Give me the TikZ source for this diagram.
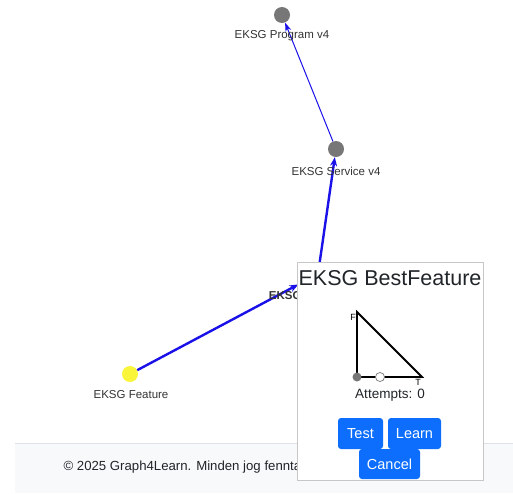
\documentclass[tikz,border=0pt]{standalone}
\usepackage{fontspec}
\setmainfont{Liberation Sans}
\usetikzlibrary{arrows.meta}
\definecolor{edgeblue}{HTML}{1A10E8}
\definecolor{nodegray}{HTML}{777777}
\definecolor{nodeyellow}{HTML}{F8F53A}
\definecolor{btnblue}{HTML}{0D6EFD}
\definecolor{footbg}{HTML}{F8F9FA}
\definecolor{footline}{HTML}{DEE2E6}
\definecolor{textdark}{HTML}{212529}
\tikzset{
  vertex/.style={circle, inner sep=0pt, minimum size=16pt, fill=nodegray},
  vlabel/.style={font=\fontsize{11.5}{13}\selectfont, text=black!80},
  thinedge/.style={draw=edgeblue, line width=1pt, -{Stealth[length=9pt,width=6pt]}},
  thickedge/.style={draw=edgeblue, line width=2.4pt, -{Stealth[length=9pt,width=7pt]}},
  btn/.style={fill=btnblue, rounded corners=3pt},
  btntext/.style={text=white, font=\fontsize{14.5}{16}\selectfont}
}
\begin{document}
\begin{tikzpicture}[x=1pt, y=-1pt]
\useasboundingbox (0,0) rectangle (513,493);

% footer bar
\fill[footbg] (15,443) rectangle (513,493);
\draw[footline, line width=1pt] (15,443) -- (513,443);
\node[anchor=west, font=\fontsize{13.2}{15}\selectfont, text=textdark] (foot) at (60,467)
  {© 2025 Graph4Learn. Minden jog fenntartva.};

% graph nodes
\node[vertex] (prog) at (282,15) {};
\node[vertex] (serv) at (336,149) {};
\node[vertex, fill=nodeyellow] (feat) at (130,374) {};
\node[vertex] (best) at (318,274) {};

% edges
\draw[thinedge] (serv) -- (prog);
\draw[thickedge] (best) -- (serv);
\draw[thickedge, shorten >=14pt] (feat) -- (best);

% labels
\node[vlabel] (progl) at (282,36) {EKSG Program v4};
\node[vlabel] (servl) at (336,171) {EKSG Service v4};
\node[vlabel] (featl) at (131,395) {EKSG Feature};
\node[vlabel, font=\bfseries\fontsize{11.5}{13}\selectfont] (bestl) at (320,296) {EKSG BestFeature};

% popup panel
\draw[fill=white, draw=black!22, line width=0.8pt] (297,262) rectangle (483,480);
\node[font=\fontsize{21.5}{24}\selectfont, text=textdark] (title) at (390,278) {EKSG BestFeature};

% triangle chart
\coordinate (tf) at (357,312);
\coordinate (to) at (357,377);
\coordinate (tt) at (422,377);
\draw[line width=1.8pt, line join=miter] (tf) -- (to) -- (tt) -- cycle;
\fill[nodegray] (to) circle (4.5);
\draw[nodegray, fill=white, line width=0.7pt] (380,377) circle (4.5);
\node[font=\fontsize{9}{10}\selectfont] (lf) at (353,317) {F};
\node[font=\fontsize{9}{10}\selectfont] (lt) at (418,382) {T};
\node[font=\fontsize{13.5}{15}\selectfont, text=textdark] (att) at (390,395) {Attempts: 0};

% buttons
\fill[btn] (338,418) rectangle (383,449);
\node[btntext] (test) at (360.5,433.5) {Test};
\fill[btn] (388,418) rectangle (441,449);
\node[btntext] (learn) at (414.5,433.5) {Learn};
\fill[btn] (359,449) rectangle (420,479);
\node[btntext] (cancel) at (389.5,464) {Cancel};
\end{tikzpicture}
\end{document}
